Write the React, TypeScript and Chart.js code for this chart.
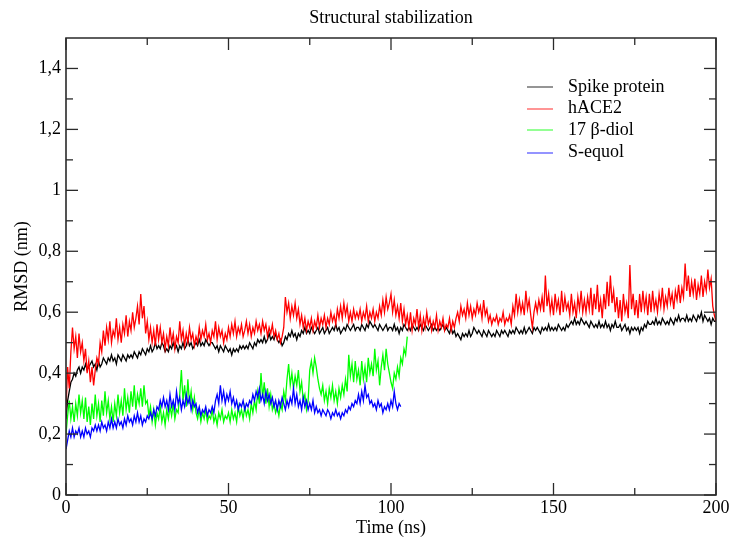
import React, { useEffect, useRef } from "react";
import { Chart, registerables } from "chart.js";

Chart.register(...registerables);

const TITLE = "Structural stabilization";
const X_TITLE = "Time (ns)";
const Y_TITLE = "RMSD (nm)";

const X_MAJOR = [0, 50, 100, 150, 200];
const X_MINOR = [25, 75, 125, 175];
const Y_MAJOR = [0, 0.2, 0.4, 0.6, 0.8, 1, 1.2, 1.4];
const Y_MINOR = [0.1, 0.3, 0.5, 0.7, 0.9, 1.1, 1.3];

const SERIES_NAMES = ["Spike protein", "hACE2", "17 β-diol", "S-equol"];
const SERIES_COLORS = ["#000000", "#ff0000", "#00ff00", "#0000ff"];

// time step (ns) between consecutive samples of each series
const SPIKE_STEP = 0.5;
const HACE2_STEP = 0.5;
const DIOL_STEP = 0.5;
const EQUOL_STEP = 0.5;

const SPIKE = [
  0.25, 0.31, 0.34, 0.37, 0.38, 0.40, 0.39, 0.41, 0.42, 0.40,
  0.42, 0.41, 0.43, 0.41, 0.42, 0.43, 0.44, 0.42, 0.43, 0.41,
  0.44, 0.42, 0.43, 0.45, 0.44, 0.43, 0.45, 0.44, 0.46, 0.44,
  0.45, 0.43, 0.46, 0.45, 0.44, 0.46, 0.45, 0.44, 0.46, 0.45,
  0.46, 0.45, 0.47, 0.46, 0.45, 0.47, 0.46, 0.48, 0.47, 0.46,
  0.48, 0.47, 0.49, 0.47, 0.48, 0.50, 0.48, 0.49, 0.48, 0.50,
  0.49, 0.47, 0.48, 0.47, 0.49, 0.48, 0.50, 0.48, 0.49, 0.47,
  0.49, 0.48, 0.50, 0.48, 0.49, 0.51, 0.49, 0.50, 0.48, 0.49,
  0.50, 0.49, 0.51, 0.49, 0.50, 0.49, 0.51, 0.50, 0.49, 0.50,
  0.50, 0.49, 0.48, 0.49, 0.47, 0.49, 0.48, 0.47, 0.49, 0.48,
  0.47, 0.48, 0.46, 0.48, 0.47, 0.48, 0.47, 0.49, 0.48, 0.49,
  0.48, 0.49, 0.48, 0.50, 0.49, 0.48, 0.50, 0.49, 0.51, 0.50,
  0.51, 0.50, 0.52, 0.50, 0.51, 0.53, 0.51, 0.52, 0.51, 0.53,
  0.51, 0.50, 0.51, 0.49, 0.50, 0.52, 0.51, 0.53, 0.52, 0.54,
  0.52, 0.53, 0.51, 0.53, 0.52, 0.54, 0.53, 0.55, 0.53, 0.54,
  0.53, 0.55, 0.54, 0.53, 0.54, 0.55, 0.53, 0.54, 0.55, 0.53,
  0.54, 0.55, 0.53, 0.54, 0.55, 0.54, 0.56, 0.54, 0.55, 0.53,
  0.54, 0.55, 0.54, 0.56, 0.55, 0.54, 0.55, 0.56, 0.54, 0.55,
  0.55, 0.54, 0.56, 0.55, 0.54, 0.56, 0.55, 0.57, 0.56, 0.55,
  0.56, 0.55, 0.54, 0.56, 0.55, 0.54, 0.55, 0.56, 0.54, 0.55,
  0.55, 0.54, 0.56, 0.54, 0.55, 0.53, 0.55, 0.54, 0.56, 0.55,
  0.54, 0.55, 0.54, 0.56, 0.55, 0.54, 0.55, 0.54, 0.56, 0.55,
  0.54, 0.56, 0.55, 0.54, 0.55, 0.56, 0.54, 0.55, 0.54, 0.55,
  0.54, 0.55, 0.56, 0.54, 0.55, 0.54, 0.53, 0.55, 0.53, 0.54,
  0.52, 0.53, 0.52, 0.51, 0.53, 0.52, 0.53, 0.52, 0.54, 0.52,
  0.53, 0.55, 0.54, 0.53, 0.54, 0.53, 0.52, 0.54, 0.53, 0.52,
  0.54, 0.53, 0.52, 0.53, 0.52, 0.54, 0.53, 0.52, 0.54, 0.53,
  0.54, 0.53, 0.52, 0.54, 0.53, 0.54, 0.53, 0.55, 0.54, 0.53,
  0.54, 0.53, 0.55, 0.53, 0.54, 0.55, 0.54, 0.53, 0.55, 0.54,
  0.55, 0.54, 0.53, 0.55, 0.54, 0.55, 0.54, 0.56, 0.54, 0.55,
  0.54, 0.55, 0.54, 0.56, 0.55, 0.54, 0.55, 0.54, 0.56, 0.55,
  0.56, 0.57, 0.56, 0.58, 0.56, 0.57, 0.56, 0.58, 0.57, 0.56,
  0.57, 0.56, 0.55, 0.57, 0.56, 0.55, 0.56, 0.55, 0.57, 0.55,
  0.56, 0.55, 0.57, 0.55, 0.56, 0.54, 0.56, 0.55, 0.57, 0.55,
  0.55, 0.56, 0.54, 0.55, 0.56, 0.54, 0.55, 0.53, 0.55, 0.54,
  0.55, 0.54, 0.55, 0.53, 0.55, 0.54, 0.56, 0.55, 0.57, 0.56,
  0.56, 0.57, 0.56, 0.58, 0.56, 0.57, 0.56, 0.58, 0.57, 0.56,
  0.57, 0.56, 0.58, 0.57, 0.56, 0.58, 0.57, 0.59, 0.57, 0.58,
  0.58, 0.57, 0.59, 0.57, 0.58, 0.57, 0.59, 0.58, 0.57, 0.59,
  0.58, 0.60, 0.57, 0.59, 0.58, 0.57, 0.58, 0.56, 0.58, 0.57,
  0.57,
];

const HACE2 = [
  0.28, 0.42, 0.35, 0.47, 0.55, 0.48, 0.52, 0.45, 0.53, 0.47,
  0.50, 0.44, 0.48, 0.40, 0.44, 0.37, 0.42, 0.36, 0.41, 0.45,
  0.43, 0.50, 0.47, 0.54, 0.49, 0.55, 0.51, 0.57, 0.50, 0.54,
  0.52, 0.58, 0.51, 0.55, 0.50, 0.56, 0.53, 0.59, 0.52, 0.57,
  0.54, 0.60, 0.55, 0.58, 0.62, 0.56, 0.66, 0.58, 0.62, 0.53,
  0.57, 0.51, 0.55, 0.50, 0.54, 0.49, 0.56, 0.51, 0.55, 0.50,
  0.53, 0.48, 0.52, 0.49, 0.55, 0.50, 0.53, 0.48, 0.52, 0.50,
  0.57, 0.51, 0.54, 0.49, 0.53, 0.50, 0.55, 0.51, 0.53, 0.49,
  0.52, 0.50, 0.55, 0.51, 0.54, 0.52, 0.56, 0.51, 0.53, 0.50,
  0.54, 0.52, 0.57, 0.51, 0.55, 0.52, 0.54, 0.50, 0.53, 0.51,
  0.55, 0.52, 0.56, 0.53, 0.57, 0.52, 0.55, 0.53, 0.56, 0.52,
  0.54, 0.57, 0.53, 0.56, 0.52, 0.55, 0.53, 0.57, 0.54, 0.56,
  0.53, 0.57, 0.54, 0.56, 0.52, 0.55, 0.53, 0.56, 0.52, 0.54,
  0.51, 0.53, 0.50, 0.52, 0.55, 0.65, 0.60, 0.63, 0.58, 0.62,
  0.59, 0.63, 0.58, 0.61, 0.56, 0.59, 0.55, 0.58, 0.54, 0.57,
  0.55, 0.58, 0.54, 0.57, 0.55, 0.59, 0.55, 0.58, 0.56, 0.59,
  0.55, 0.58, 0.56, 0.60, 0.57, 0.59, 0.56, 0.61, 0.58, 0.62,
  0.58, 0.63, 0.59, 0.62, 0.57, 0.60, 0.57, 0.61, 0.58, 0.60,
  0.58, 0.61, 0.57, 0.60, 0.58, 0.62, 0.57, 0.60, 0.58, 0.61,
  0.57, 0.60, 0.58, 0.62, 0.59, 0.64, 0.60, 0.65, 0.61, 0.63,
  0.66, 0.60, 0.64, 0.59, 0.62, 0.58, 0.63, 0.57, 0.61, 0.56,
  0.59, 0.55, 0.60, 0.54, 0.58, 0.56, 0.61, 0.55, 0.59, 0.54,
  0.58, 0.55, 0.60, 0.56, 0.58, 0.54, 0.57, 0.55, 0.59, 0.54,
  0.57, 0.55, 0.58, 0.54, 0.56, 0.55, 0.58, 0.54, 0.57, 0.55,
  0.58, 0.60, 0.57, 0.62, 0.59, 0.61, 0.58, 0.63, 0.59, 0.62,
  0.58, 0.61, 0.59, 0.63, 0.60, 0.62, 0.58, 0.64, 0.59, 0.61,
  0.57, 0.59, 0.56, 0.58, 0.57, 0.59, 0.56, 0.58, 0.57, 0.60,
  0.56, 0.58, 0.57, 0.59, 0.56, 0.62, 0.59, 0.66, 0.60, 0.64,
  0.60, 0.63, 0.59, 0.67, 0.61, 0.64, 0.59, 0.55, 0.60, 0.63,
  0.60, 0.64, 0.61, 0.65, 0.60, 0.72, 0.62, 0.66, 0.60, 0.64,
  0.59, 0.66, 0.61, 0.64, 0.59, 0.67, 0.60, 0.65, 0.61, 0.63,
  0.59, 0.66, 0.60, 0.63, 0.58, 0.65, 0.61, 0.67, 0.60, 0.64,
  0.60, 0.65, 0.61, 0.68, 0.59, 0.66, 0.61, 0.69, 0.60, 0.64,
  0.58, 0.66, 0.61, 0.70, 0.62, 0.72, 0.63, 0.67, 0.60, 0.65,
  0.58, 0.64, 0.57, 0.66, 0.60, 0.63, 0.58, 0.755, 0.61, 0.66,
  0.59, 0.64, 0.58, 0.66, 0.60, 0.67, 0.61, 0.65, 0.59, 0.66,
  0.60, 0.67, 0.61, 0.64, 0.60, 0.66, 0.62, 0.68, 0.61, 0.65,
  0.62, 0.68, 0.63, 0.66, 0.61, 0.67, 0.64, 0.69, 0.63, 0.68,
  0.65, 0.76, 0.67, 0.72, 0.65, 0.70, 0.66, 0.71, 0.64, 0.69,
  0.66, 0.72, 0.65, 0.70, 0.67, 0.74, 0.68, 0.71, 0.62, 0.59,
  0.57,
];

const DIOL = [
  0.20, 0.26, 0.31, 0.25, 0.29, 0.24, 0.30, 0.26, 0.33, 0.27,
  0.31, 0.25, 0.32, 0.24, 0.29, 0.23, 0.30, 0.25, 0.33, 0.26,
  0.30, 0.24, 0.31, 0.26, 0.34, 0.27, 0.31, 0.25, 0.29, 0.24,
  0.30, 0.26, 0.33, 0.27, 0.31, 0.26, 0.35, 0.28, 0.32, 0.27,
  0.34, 0.29, 0.36, 0.28, 0.33, 0.30, 0.35, 0.29, 0.36, 0.30,
  0.31, 0.26, 0.29, 0.24, 0.28, 0.23, 0.27, 0.25, 0.29, 0.24,
  0.27, 0.23, 0.28, 0.25, 0.29, 0.26, 0.30, 0.25, 0.28, 0.27,
  0.33, 0.41, 0.31, 0.36, 0.29, 0.38, 0.30, 0.34, 0.28, 0.32,
  0.27, 0.25, 0.28, 0.24, 0.27, 0.25, 0.28, 0.24, 0.26, 0.25,
  0.28, 0.24, 0.26, 0.23, 0.27, 0.25, 0.28, 0.24, 0.26, 0.25,
  0.27, 0.24, 0.28, 0.25, 0.27, 0.24, 0.29, 0.26, 0.28, 0.25,
  0.29, 0.26, 0.28, 0.25, 0.30, 0.27, 0.31, 0.28, 0.34, 0.30,
  0.40, 0.32, 0.37, 0.30, 0.35, 0.29, 0.33, 0.28, 0.30, 0.27,
  0.29, 0.26, 0.30, 0.28, 0.34, 0.31, 0.38, 0.43, 0.36, 0.40,
  0.35, 0.39, 0.36, 0.41, 0.34, 0.37, 0.31, 0.33, 0.28, 0.31,
  0.41, 0.44, 0.40, 0.45, 0.42, 0.38, 0.35, 0.33, 0.36, 0.31,
  0.34, 0.30, 0.35, 0.32, 0.36, 0.31, 0.34, 0.30, 0.35, 0.32,
  0.36, 0.33, 0.38, 0.34, 0.46, 0.39, 0.43, 0.37, 0.44, 0.38,
  0.41, 0.36, 0.44, 0.38, 0.42, 0.37, 0.45, 0.40, 0.43, 0.39,
  0.48, 0.41, 0.44, 0.36, 0.42, 0.46, 0.41, 0.48, 0.43, 0.40,
  0.37, 0.35, 0.40, 0.38, 0.42, 0.39, 0.45, 0.43, 0.48, 0.46,
  0.52,
];

const EQUOL = [
  0.15, 0.18, 0.21, 0.19, 0.22, 0.19, 0.21, 0.20, 0.22, 0.19,
  0.21, 0.19, 0.22, 0.20, 0.21, 0.19, 0.22, 0.21, 0.23, 0.21,
  0.23, 0.21, 0.24, 0.22, 0.23, 0.21, 0.24, 0.22, 0.25, 0.22,
  0.24, 0.22, 0.25, 0.23, 0.24, 0.22, 0.25, 0.23, 0.26, 0.24,
  0.25, 0.23, 0.26, 0.24, 0.27, 0.24, 0.26, 0.23, 0.25, 0.24,
  0.26, 0.25, 0.27, 0.25, 0.28, 0.26, 0.29, 0.28, 0.31, 0.29,
  0.32, 0.29, 0.31, 0.28, 0.33, 0.29, 0.31, 0.28, 0.34, 0.30,
  0.32, 0.28, 0.31, 0.29, 0.33, 0.30, 0.32, 0.28, 0.31, 0.29,
  0.30, 0.27, 0.29, 0.26, 0.28, 0.27, 0.29, 0.26, 0.28, 0.27,
  0.29, 0.27, 0.31, 0.33, 0.30, 0.36, 0.31, 0.34, 0.30, 0.33,
  0.31, 0.34, 0.30, 0.32, 0.29, 0.31, 0.28, 0.30, 0.29, 0.31,
  0.28, 0.30, 0.29, 0.31, 0.30, 0.33, 0.31, 0.34, 0.32, 0.35,
  0.31, 0.33, 0.30, 0.34, 0.31, 0.33, 0.30, 0.32, 0.29, 0.31,
  0.28, 0.31, 0.29, 0.32, 0.30, 0.28, 0.31, 0.29, 0.32, 0.30,
  0.35, 0.30, 0.33, 0.29, 0.31, 0.28, 0.32, 0.29, 0.31, 0.28,
  0.30, 0.28, 0.31, 0.27, 0.29, 0.27, 0.28, 0.26, 0.28, 0.27,
  0.26, 0.28, 0.27, 0.25, 0.27, 0.26, 0.28, 0.26, 0.27, 0.25,
  0.27, 0.26, 0.28, 0.27, 0.29, 0.28, 0.30, 0.29, 0.31, 0.30,
  0.33, 0.30, 0.34, 0.31, 0.36, 0.32, 0.33, 0.30, 0.31, 0.29,
  0.30, 0.28, 0.31, 0.29, 0.30, 0.27, 0.29, 0.28, 0.30, 0.28,
  0.31, 0.29, 0.34, 0.30, 0.28, 0.30,
  0.29,
];

const FONT = "'Liberation Serif', 'Times New Roman', Times, serif";

// Legend layout (pixels)
const LEGEND_LINE_X0 = 527;
const LEGEND_LINE_X1 = 553;
const LEGEND_TEXT_X = 568;
const LEGEND_ROWS_Y = [87, 108.5, 130, 152.5];

const framePlugin = {
  id: "graceFrame",
  afterDraw(chart: any) {
    const { ctx, chartArea, scales } = chart;
    const { left, right, top, bottom } = chartArea;
    const xs = scales.x;
    const ys = scales.y;
    ctx.save();
    ctx.strokeStyle = "#2a2a2a";
    ctx.lineWidth = 1.6;
    ctx.beginPath();
    ctx.rect(left, top, right - left, bottom - top);
    ctx.stroke();

    const line = (x0: number, y0: number, x1: number, y1: number) => {
      ctx.beginPath();
      ctx.moveTo(x0, y0);
      ctx.lineTo(x1, y1);
      ctx.stroke();
    };
    ctx.lineWidth = 1.3;
    const MAJ = 12;
    const MIN = 7;
    for (const v of X_MAJOR) {
      const px = xs.getPixelForValue(v);
      line(px, bottom, px, bottom - MAJ);
      line(px, top, px, top + MAJ);
    }
    for (const v of X_MINOR) {
      const px = xs.getPixelForValue(v);
      line(px, bottom, px, bottom - MIN);
      line(px, top, px, top + MIN);
    }
    for (const v of Y_MAJOR) {
      const py = ys.getPixelForValue(v);
      line(left, py, left + MAJ, py);
      line(right, py, right - MAJ, py);
    }
    for (const v of Y_MINOR) {
      const py = ys.getPixelForValue(v);
      line(left, py, left + MIN, py);
      line(right, py, right - MIN, py);
    }

    // Title
    ctx.fillStyle = "#000";
    ctx.font = `18px ${FONT}`;
    ctx.textAlign = "center";
    ctx.textBaseline = "alphabetic";
    ctx.fillText(TITLE, (left + right) / 2, 23);

    // X axis title
    ctx.fillText(X_TITLE, (left + right) / 2, 533);

    // Y axis title
    ctx.save();
    ctx.translate(27, (top + bottom) / 2);
    ctx.rotate(-Math.PI / 2);
    ctx.fillText(Y_TITLE, 0, 0);
    ctx.restore();

    // Legend
    ctx.textAlign = "left";
    ctx.textBaseline = "middle";
    SERIES_NAMES.forEach((name, i) => {
      const y = LEGEND_ROWS_Y[i];
      ctx.strokeStyle = SERIES_COLORS[i];
      ctx.globalAlpha = 0.7;
      ctx.lineWidth = 1.2;
      line(LEGEND_LINE_X0, Math.round(y), LEGEND_LINE_X1, Math.round(y));
      ctx.globalAlpha = 1;
      ctx.fillStyle = "#000";
      ctx.fillText(name, LEGEND_TEXT_X, y);
    });
    ctx.restore();
  },
};

function toPoints(values: number[], step: number) {
  return values.map((v, i) => ({ x: i * step, y: v }));
}

const fmt = (v: number) => String(Math.round(v * 10) / 10).replace(".", ",");

export default function App() {
  const ref = useRef<HTMLCanvasElement>(null);
  useEffect(() => {
    document.body.style.margin = "0";
    const canvas = ref.current!;
    const series = [
      { data: SPIKE, step: SPIKE_STEP },
      { data: HACE2, step: HACE2_STEP },
      { data: DIOL, step: DIOL_STEP },
      { data: EQUOL, step: EQUOL_STEP },
    ];
    const chart = new Chart(canvas, {
      type: "line",
      data: {
        datasets: series.map((s, i) => ({
          label: SERIES_NAMES[i],
          data: toPoints(s.data, s.step),
          borderColor: SERIES_COLORS[i],
          backgroundColor: SERIES_COLORS[i],
          borderWidth: 1.3,
          pointRadius: 0,
          tension: 0,
          fill: false,
          order: 4 - i,
        })),
      },
      options: {
        responsive: false,
        maintainAspectRatio: false,
        animation: false,
        devicePixelRatio: 1,
        layout: { padding: { top: 38, right: 17, left: 0, bottom: 0 } },
        plugins: {
          legend: { display: false },
          title: { display: false },
          tooltip: { enabled: false },
        },
        scales: {
          x: {
            type: "linear",
            min: 0,
            max: 200,
            afterFit: (s: any) => {
              s.height = 43;
            },
            afterBuildTicks: (s: any) => {
              s.ticks = X_MAJOR.map((v) => ({ value: v }));
            },
            grid: { display: false, drawTicks: false },
            border: { display: false },
            ticks: {
              color: "#000",
              padding: 2,
              maxRotation: 0,
              autoSkip: false,
              font: { family: FONT, size: 18 },
              callback: (v: any) => String(v),
            },
          },
          y: {
            type: "linear",
            min: 0,
            max: 1.5,
            afterFit: (s: any) => {
              s.width = 66;
            },
            afterBuildTicks: (s: any) => {
              s.ticks = Y_MAJOR.map((v) => ({ value: v }));
            },
            grid: { display: false, drawTicks: false },
            border: { display: false },
            ticks: {
              color: "#000",
              padding: 5,
              autoSkip: false,
              font: { family: FONT, size: 18 },
              callback: (v: any) => fmt(Number(v)),
            },
          },
        },
      },
      plugins: [framePlugin],
    });
    return () => chart.destroy();
  }, []);
  return (
    <div style={{ width: 733, height: 538 }}>
      <canvas ref={ref} width={733} height={538} style={{ display: "block" }} />
    </div>
  );
}
